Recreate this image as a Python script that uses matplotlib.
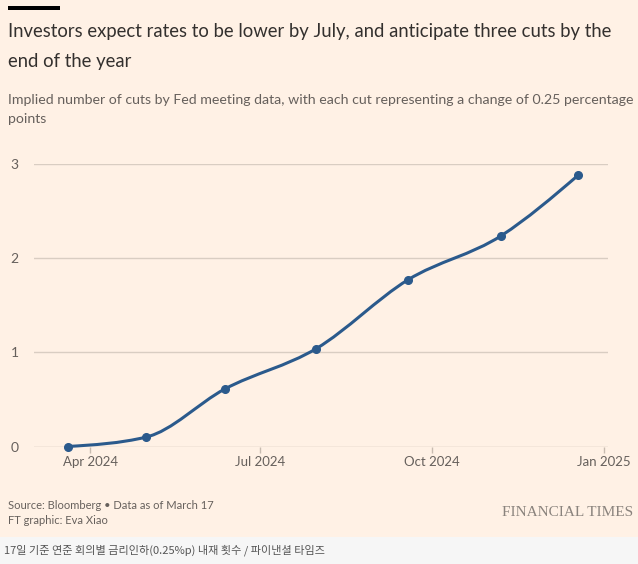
import numpy as np
import pandas as pd
import matplotlib
matplotlib.use("Agg")
import matplotlib.pyplot as plt
import matplotlib.dates as mdates
from matplotlib.path import Path
from matplotlib.patches import PathPatch, Rectangle

# ==============================
# data
# ==============================
meeting_dates = ["2024-03-20", "2024-05-01", "2024-06-12", "2024-07-31",
                 "2024-09-18", "2024-11-07", "2024-12-18"]
implied_cuts = [0.0, 0.10, 0.61, 1.04, 1.77, 2.24, 2.88]

y_ticks = [0, 1, 2, 3]
x_tick_dates = ["2024-04-01", "2024-07-01", "2024-10-01", "2025-01-01"]
x_tick_labels = ["Apr 2024", "Jul 2024", "Oct 2024", "Jan 2025"]

title = "Investors expect rates to be lower by July, and anticipate three cuts by the\nend of the year"
subtitle = "Implied number of cuts by Fed meeting data, with each cut representing a change of 0.25 percentage\npoints"
source = "Source: Bloomberg \u2022 Data as of March 17\nFT graphic: Eva Xiao"
caption_kr = "17일 기준 연준 회의별 금리인하(0.25%p) 내재 횟수 / 파이낸셜 타임즈"

BG = "#FFF1E5"
LINE = "#2b5a8c"
GRID = "#d9cdc2"
TEXT = "#33302e"
MUTED = "#66605c"

# ==============================
# monotone-x bezier path (same as d3 curveMonotoneX)
# ==============================
def monotone_path(x, y):
    x = np.asarray(x, float)
    y = np.asarray(y, float)
    n = len(x)
    t = np.zeros(n)
    for i in range(1, n - 1):
        h0 = x[i] - x[i - 1]
        h1 = x[i + 1] - x[i]
        s0 = (y[i] - y[i - 1]) / h0
        s1 = (y[i + 1] - y[i]) / h1
        p = (s0 * h1 + s1 * h0) / (h0 + h1)
        t[i] = (np.sign(s0) + np.sign(s1)) * min(abs(s0), abs(s1), 0.5 * abs(p))
    h = x[1] - x[0]
    t[0] = (3 * (y[1] - y[0]) / h - t[1]) / 2
    h = x[-1] - x[-2]
    t[-1] = (3 * (y[-1] - y[-2]) / h - t[-2]) / 2

    verts = [(x[0], y[0])]
    codes = [Path.MOVETO]
    for i in range(n - 1):
        dx = (x[i + 1] - x[i]) / 3
        verts += [(x[i] + dx, y[i] + dx * t[i]),
                  (x[i + 1] - dx, y[i + 1] - dx * t[i + 1]),
                  (x[i + 1], y[i + 1])]
        codes += [Path.CURVE4] * 3
    return Path(verts, codes)


xs = mdates.date2num(pd.to_datetime(meeting_dates))
x_ticks = mdates.date2num(pd.to_datetime(x_tick_dates))

# ==============================
# figure
# ==============================
fig = plt.figure(figsize=(6.38, 5.64), dpi=100, facecolor=BG)

# bottom caption strip
fig.patches.append(Rectangle((0, 0), 1, 27 / 564, transform=fig.transFigure,
                             facecolor="#f6f6f6", edgecolor="none", zorder=0))
# top black bar
fig.patches.append(Rectangle((8 / 638, 1 - 9.5 / 564), 52 / 638, 3 / 564,
                             transform=fig.transFigure, facecolor="black",
                             edgecolor="none"))

ax = fig.add_axes([34 / 638, 1 - 446.5 / 564, 574 / 638, 282.5 / 564])
ax.set_facecolor(BG)

ax.set_xlim(mdates.date2num(pd.Timestamp("2024-03-02")),
            mdates.date2num(pd.Timestamp("2025-01-03")))
ax.set_ylim(0, 3)

for v in y_ticks:
    ax.axhline(v, color=GRID if v else "#c8bcb1", lw=1, zorder=1)

ax.set_yticks(y_ticks)
ax.set_xticks(x_ticks)
ax.set_xticklabels(x_tick_labels)
ax.tick_params(axis="y", length=0, pad=11, labelsize=10, labelcolor=MUTED)
ax.tick_params(axis="x", length=4, width=1, color="#c8bcb1", pad=3,
               labelsize=9.5, labelcolor=MUTED)
for lab in ax.get_xticklabels() + ax.get_yticklabels():
    lab.set_family("Lato")
for s in ax.spines.values():
    s.set_visible(False)

ax.add_patch(PathPatch(monotone_path(xs, implied_cuts), facecolor="none",
                       edgecolor=LINE, lw=2.2, capstyle="round", zorder=3,
                       clip_on=False))
ax.plot(xs, implied_cuts, "o", color=LINE, ms=5.5, zorder=4, clip_on=False)

# ==============================
# texts
# ==============================
fig.text(8 / 638, 1 - 23 / 564, title, ha="left", va="top", fontsize=13.35,
         family="Lato", color=TEXT, linespacing=1.95)
fig.text(8 / 638, 1 - 94 / 564, subtitle, ha="left", va="top", fontsize=10.2,
         family="Lato", color=MUTED, linespacing=1.72)
fig.text(8 / 638, 1 - 500 / 564, source, ha="left", va="top", fontsize=8,
         family="Lato", color=MUTED, linespacing=1.4)
fig.text(633 / 638, 1 - 512 / 564, "FINANCIAL TIMES", ha="right", va="center",
         fontsize=11, family="Liberation Serif", color="#8a837d")
fig.text(4 / 638, 1 - 550 / 564, caption_kr, ha="left", va="center",
         fontsize=8, family=["Noto Sans CJK KR", "DejaVu Sans"], color="#555555")

fig.savefig("out.png", dpi=100, facecolor=BG)
